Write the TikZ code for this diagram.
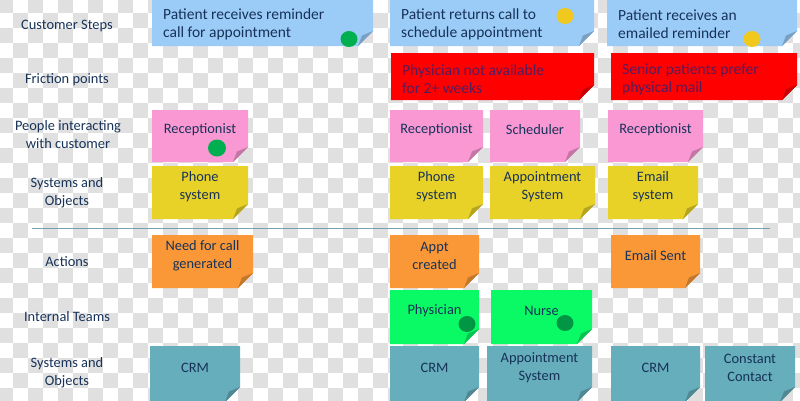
\documentclass[tikz,border=0pt]{standalone}
\usepackage{fontspec}
\setmainfont{Carlito}
\usepackage{tikz}
\usepackage{xcolor}
\definecolor{navy}{RGB}{23,50,88}
\definecolor{plum}{RGB}{85,28,95}
\definecolor{checker}{RGB}{224,224,224}
\definecolor{stepblue}{RGB}{155,204,248}
\definecolor{frictionred}{RGB}{255,0,0}
\definecolor{peoplepink}{RGB}{250,152,212}
\definecolor{sysyellow}{RGB}{232,210,40}
\definecolor{actorange}{RGB}{250,152,55}
\definecolor{teamgreen}{RGB}{10,250,102}
\definecolor{crmteal}{RGB}{102,174,188}
\definecolor{dotgreen}{RGB}{0,176,80}
\definecolor{dotyellow}{RGB}{240,200,30}
\definecolor{rulecol}{RGB}{120,160,176}
\newcommand{\sticky}[7]{% name, x1, y1, x2, y2, colour, text
  \node[note, minimum width={#4pt-#2pt}, minimum height={#5pt-#3pt}] (#1) at (#2,#3) {};
  \fill[#6] (#1.north west) -- (#1.north east) -- ([yshift=15pt]#1.south east)
    -- ([xshift=-15pt]#1.south east) -- (#1.south west) -- cycle;
  \fill[#6!78!black] ([xshift=-15pt]#1.south east) -- ([yshift=15pt]#1.south east)
    -- ([xshift=-11pt,yshift=10.5pt]#1.south east) -- cycle;
  \node[notetext] (#1-t) at ([yshift=6pt]#1.center) {#7};}
\newcommand{\stickyl}[8][navy]{% same, text set left
  \node[note, minimum width={#5pt-#3pt}, minimum height={#6pt-#4pt}] (#2) at (#3,#4) {};
  \fill[#7] (#2.north west) -- (#2.north east) -- ([yshift=15pt]#2.south east)
    -- ([xshift=-15pt]#2.south east) -- (#2.south west) -- cycle;
  \fill[#7!78!black] ([xshift=-15pt]#2.south east) -- ([yshift=15pt]#2.south east)
    -- ([xshift=-11pt,yshift=10.5pt]#2.south east) -- cycle;
  \node[steptext, text=#1] (#2-t) at ([xshift=11pt,yshift=-2.5pt]#2.west) {#8};}

\begin{document}
\begin{tikzpicture}[x=1pt, y=-1pt,
  note/.style={anchor=north west, inner sep=0pt, outer sep=0pt},
  notetext/.style={align=center, text=navy, inner sep=0pt,
    font=\fontsize{14.4}{18}\selectfont},
  steptext/.style={align=left, anchor=west, inner sep=0pt,
    font=\fontsize{15.5}{18}\selectfont},
  rowlabel/.style={align=center, text=navy, inner sep=0pt,
    font=\fontsize{14.4}{18}\selectfont}]
\useasboundingbox (0,0) rectangle (800,400);
% background squares
\begin{scope}
\clip (0,0) rectangle (800,400);
\fill[white] (0,0) rectangle (800,400);
\foreach \i in {0,...,53}
  \foreach \j in {0,...,27}{
    \pgfmathtruncatemacro\odd{mod(\i+\j,2)}
    \ifnum\odd=0 \fill[checker] (-2+15*\i,-2+15*\j) rectangle ++(15,15); \fi}
\end{scope}

\node (steps) [rowlabel] at (67,25.5) {Customer Steps};
\node (friction) [rowlabel] at (67,79.5) {Friction points};
\node (people) [rowlabel] at (68,134.5) {People interacting\\with customer};
\node (systems) [rowlabel] at (67,192.5) {Systems and\\Objects};
\node (actions) [rowlabel] at (67,261.5) {Actions};
\node (teams) [rowlabel] at (67,316.5) {Internal Teams};
\node (backsys) [rowlabel] at (67,372.5) {Systems and\\Objects};
\draw[rulecol, line width=1pt] (32,228) -- (770,228);

\stickyl{s1}{152}{-2}{373}{46}{stepblue}{Patient receives reminder\\call for appointment}
\sticky{p1}{152}{110}{248}{162}{peoplepink}{Receptionist}
\sticky{y1}{152}{166}{248}{219}{sysyellow}{Phone\\system}
\sticky{a1}{152}{235}{253}{288}{actorange}{Need for call\\generated}
\sticky{c1}{150}{346}{240}{402}{crmteal}{CRM}

\stickyl{s2}{390}{-2}{594}{46}{stepblue}{Patient returns call to\\schedule appointment}
\stickyl[plum]{f2}{391}{53}{594}{100}{frictionred}{Physician not available\\for 2+ weeks}
\sticky{p2}{390}{110}{483}{162}{peoplepink}{Receptionist}
\sticky{p3}{490}{110}{580}{162}{peoplepink}{Scheduler}
\sticky{y2}{390}{166}{483}{219}{sysyellow}{Phone\\system}
\sticky{y3}{490}{166}{595}{219}{sysyellow}{Appointment\\System}
\sticky{a2}{390}{235}{479}{288}{actorange}{Appt\\created}
\sticky{g1}{390}{290}{479}{344}{teamgreen}{Physician}
\sticky{g2}{491}{290}{592}{344}{teamgreen}{Nurse}
\sticky{c2}{390}{346}{479}{402}{crmteal}{CRM}
\sticky{c3}{487}{346}{592}{402}{crmteal}{Appointment\\System}

\stickyl{s3}{607}{-2}{797}{46}{stepblue}{Patient receives an\\emailed reminder}
\stickyl[plum]{f3}{611}{53}{797}{100}{frictionred}{Senior patients prefer\\physical mail}
\sticky{p4}{608}{110}{703}{162}{peoplepink}{Receptionist}
\sticky{y4}{608}{166}{698}{219}{sysyellow}{Email\\system}
\sticky{a3}{611}{235}{700}{288}{actorange}{Email Sent}
\sticky{c4}{611}{346}{700}{402}{crmteal}{CRM}
\sticky{c5}{705}{346}{795}{402}{crmteal}{Constant\\Contact}

% dots
\fill[dotgreen] (349,39) ellipse (8.5pt and 8pt);
\fill[dotgreen] (217,148) ellipse (9pt and 8.5pt);
\fill[dotyellow] (565,16) ellipse (8.5pt and 8pt);
\fill[dotyellow] (752,39) ellipse (8.5pt and 8pt);
\fill[dotgreen!85!black] (467,324) ellipse (8.5pt and 8pt);
\fill[dotgreen!85!black] (565,323) ellipse (8.5pt and 8pt);
\end{tikzpicture}
\end{document}
